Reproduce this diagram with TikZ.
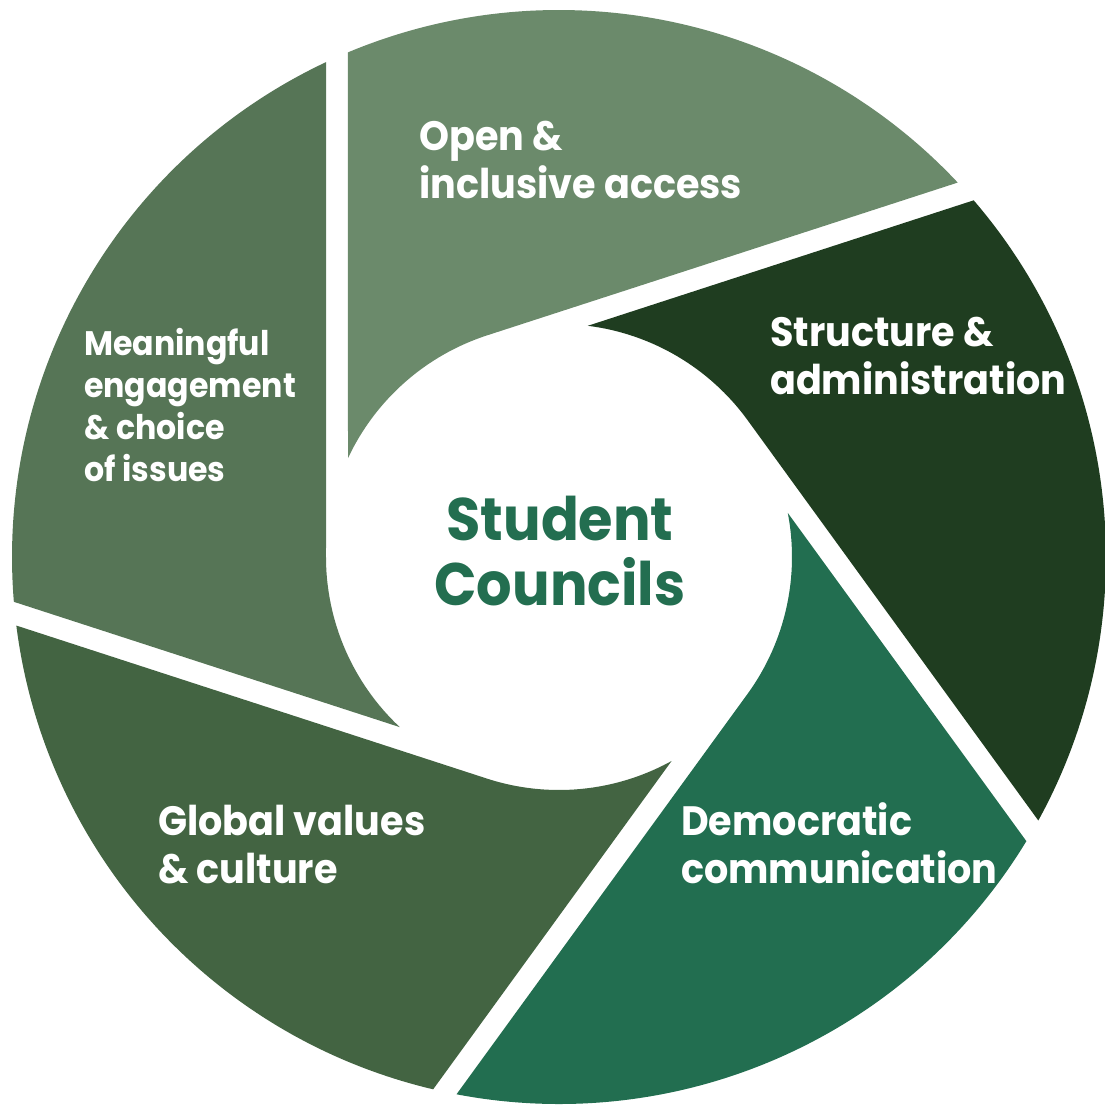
\documentclass[tikz,border=0pt]{standalone}
\usepackage{fontspec}
\setmainfont{Poppins}
\newfontfamily\lblfont{Poppins}[FakeStretch=0.93]
\definecolor{cOpen}{HTML}{6B8A6B}
\definecolor{cStruct}{HTML}{1F3D20}
\definecolor{cDemo}{HTML}{226E50}
\definecolor{cGlobal}{HTML}{436442}
\definecolor{cMean}{HTML}{567556}
\definecolor{cCenter}{HTML}{236E50}
\newcommand{\blade}[2]{%
  \fill[#2] (#1-64.8:547) -- (#1:233)
    arc[start angle=#1, end angle=#1+46.9, radius=233]
    -- (#1+4.7:547)
    arc[start angle=#1+4.7, end angle=#1-64.8, radius=547] -- cycle;}
\begin{document}
\begin{tikzpicture}[x=1pt,y=1pt,
  lbl/.style={text=white, inner sep=0pt, align=left, anchor=base west,
    font=\lblfont\fontsize{41}{48}\selectfont\bfseries},
  lblsmall/.style={lbl, font=\lblfont\fontsize{34}{42}\selectfont\bfseries},
  centre/.style={text=cCenter, inner sep=0pt, align=center, anchor=base,
    font=\lblfont\fontsize{60}{65}\selectfont\bfseries}]
\useasboundingbox (-559,-547) rectangle (546,557);
\blade{108}{cOpen}
\blade{36}{cStruct}
\blade{324}{cDemo}
\blade{252}{cGlobal}
\blade{180}{cMean}
\node[lbl] (open) at (-140,359) {Open \&\\inclusive access};
\node[lbl] (struct) at (211,163) {Structure \&\\administration};
\node[lblsmall] (mean) at (-475,76) {Meaningful\\engagement\\\& choice\\of issues};
\node[lbl] (global) at (-401,-326) {Global values\\\& culture};
\node[lbl] (demo) at (122,-326) {Democratic\\communication};
\node[centre] (centre) at (1,-48) {Student\\Councils};
\end{tikzpicture}
\end{document}
